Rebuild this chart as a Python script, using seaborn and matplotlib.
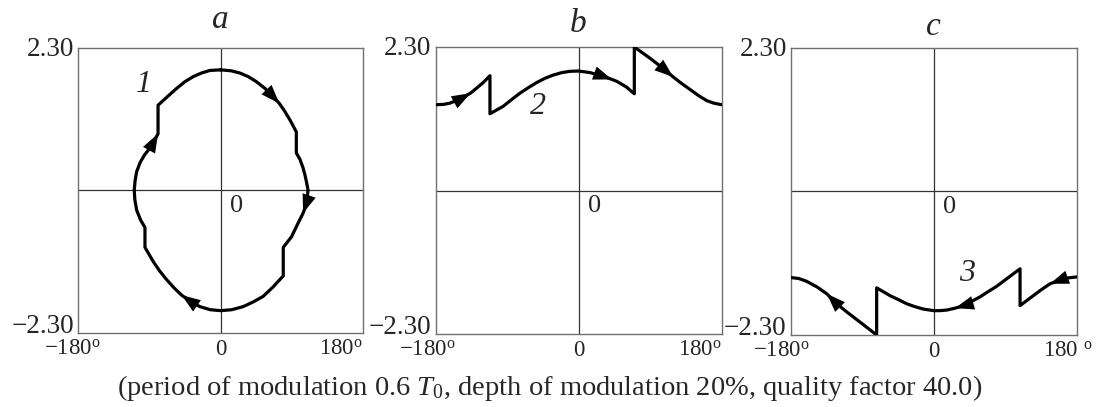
import matplotlib
matplotlib.use("Agg")
import matplotlib.pyplot as plt
import matplotlib.transforms as mtransforms
import pandas as pd
import seaborn as sns

# ---- trajectory 1: closed loop (phase in degrees, amplitude), clockwise ----
loop_phase = [0, 13, 24, 35, 45, 56, 66, 74, 81, 88, 95.5,
              95.5, 100, 104, 106.5, 108.5, 110.3, 108.3, 104, 97.7, 89.4, 79,
              79, 66, 53.6, 41, 28.4, 14, 0, -13, -26.2, -38, -49.3, -59, -68.2, -77, -85, -95.5,
              -95.5, -101, -106, -108.3, -109, -108, -106, -101.5, -96, -88, -79,
              -79, -67, -55.6, -45, -34.7, -24, -13.6, 0]
loop_amp = [1.94, 1.925, 1.89, 1.83, 1.75, 1.64, 1.51, 1.40, 1.27, 1.12, 0.94,
            0.60, 0.50, 0.36, 0.24, 0.12, 0.0, -0.21, -0.37, -0.53, -0.75, -0.92,
            -1.38, -1.56, -1.71, -1.80, -1.875, -1.925, -1.94, -1.925, -1.875, -1.79, -1.69, -1.57, -1.44, -1.30, -1.15, -0.92,
            -0.60, -0.48, -0.32, -0.15, 0.0, 0.15, 0.30, 0.45, 0.57, 0.70, 0.91,
            1.37, 1.51, 1.64, 1.75, 1.83, 1.89, 1.93, 1.94]
loop_arrow_tips = [7, 18, 32, 48]

# ---- trajectory 2: running upward branch ----
upper_phase = [-180, -170, -161.9, -152, -143, -136, -128.3, -120, -111.5,
               -111.5, -94.8, -84, -73.8, -63, -52.8, -42, -31.9, -21, -10.9, -0.4, 14.3, 31.1, 42, 48, 60, 70.1,
               70.1, 89.8, 102, 119, 128, 140.1, 151, 161.2, 170, 180]
upper_amp = [1.375, 1.38, 1.40, 1.45, 1.51, 1.56, 1.64, 1.73, 1.84,
             1.23, 1.35, 1.46, 1.56, 1.65, 1.73, 1.80, 1.85, 1.89, 1.91, 1.915, 1.89, 1.83, 1.78, 1.75, 1.66, 1.55,
             2.30, 2.12, 2.00, 1.82, 1.73, 1.62, 1.52, 1.44, 1.40, 1.375]
upper_arrow_tips = [5, 22, 29]

# ---- trajectory 3: running downward branch (travels right to left) ----
lower_phase = [180, 170, 163.2, 155, 146.5, 136, 125.4, 117, 108.7,
               108.7, 95, 79.3, 68, 58.3, 48, 37.7, 27, 16.8, 8, 0, -13, -24, -34, -45, -55, -63, -71.8,
               -71.8, -90, -109.5, -122, -134.6, -147, -160, -170, -180]
lower_amp = [-1.37, -1.385, -1.40, -1.44, -1.48, -1.57, -1.67, -1.75, -1.83,
             -1.24, -1.37, -1.52, -1.61, -1.69, -1.76, -1.83, -1.87, -1.90, -1.91, -1.91, -1.885, -1.845, -1.80, -1.73, -1.67, -1.61, -1.545,
             -2.30, -2.12, -1.93, -1.80, -1.64, -1.53, -1.44, -1.395, -1.38]
lower_arrow_tips = [4, 16, 31]

panel_titles = ["a", "b", "c"]
curve_numbers = ["1", "2", "3"]
curve_number_pos = [(-97, 1.71), (-51, 1.34), (42, -1.31)]
x_limits = (-180, 180)
y_limits = (-2.30, 2.30)
y_tick_text = ["2.30", "\u22122.30"]
caption = ("(period of modulation 0.6 $\\mathit{T}_{\\mathrm{0}}$, depth of modulation 20%, "
           "quality factor 40.0)")

sns.set_theme(style="white")
plt.rcParams["font.family"] = ["Liberation Serif", "DejaVu Serif"]
plt.rcParams["mathtext.fontset"] = "custom"
plt.rcParams["mathtext.rm"] = "Liberation Serif"
plt.rcParams["mathtext.it"] = "Liberation Serif:italic"

fig = plt.figure(figsize=(11.0, 4.07), dpi=100)
W, H = 1100.0, 407.0

# axes boxes in pixels: left, top, right, bottom
boxes = [(78, 47.5, 363.3, 333), (435.5, 47, 721.7, 334), (790.7, 47.7, 1076.7, 335)]
title_pad_px = [20, 15, 12.7]
# x tick label placement: (text, x value, pixel offset, ha)
xlab_specs = [
    [("\u2212180$^{\\mathrm{o}}$", -180, -6, "center"), ("0", 0, 0, "center"), ("180$^{\\mathrm{o}}$", 180, 0, "right")],
    [("\u2212180$^{\\mathrm{o}}$", -180, -8.5, "center"), ("0", 0, 0, "center"), ("180$^{\\mathrm{o}}$", 180, 0, "right")],
    [("\u2212180$^{\\mathrm{o}}$", -180, -9, "center"), ("0", 0, 0, "center"), ("180 $^{\\mathrm{o}}$", 180, -34, "left")],
]

curves = [
    (loop_phase, loop_amp, loop_arrow_tips),
    (upper_phase, upper_amp, upper_arrow_tips),
    (lower_phase, lower_amp, lower_arrow_tips),
]

px = 1.0 / fig.dpi  # one pixel in inches
xtick_fs = 16.5
ytick_fs = 19.5
for k, (l, t, r, b) in enumerate(boxes):
    ax = fig.add_axes([l / W, (H - b) / H, (r - l) / W, (b - t) / H])
    xs, ys, tips = curves[k]
    df = pd.DataFrame({"phase": xs, "amp": ys})

    ax.axhline(0, color="#333333", lw=0.9, zorder=1)
    ax.axvline(0, color="#333333", lw=0.9, zorder=1)
    sns.lineplot(data=df, x="phase", y="amp", sort=False, estimator=None,
                 color="black", lw=2.3, ax=ax, zorder=3)

    for i in tips:
        ax.annotate("", xy=(xs[i], ys[i]), xytext=(xs[i - 1], ys[i - 1]),
                    arrowprops=dict(arrowstyle="-|>,head_length=0.9,head_width=0.33",
                                    color="black", lw=0.0, shrinkA=0, shrinkB=0,
                                    mutation_scale=15), zorder=4)

    ax.set_xlim(*x_limits)
    ax.set_ylim(*y_limits)
    ax.set_xticks([])
    ax.set_yticks([])
    ax.set_xlabel("")
    ax.set_ylabel("")
    for sp in ax.spines.values():
        sp.set_color("#707070")
        sp.set_linewidth(1.0)
        sp.set_visible(True)

    ax.set_title(panel_titles[k], fontstyle="italic", fontsize=24,
                 pad=title_pad_px[k] * 72 / fig.dpi)

    # y labels at the frame corners
    ytr = mtransforms.blended_transform_factory(ax.transAxes, ax.transData)
    off = mtransforms.ScaledTranslation(-4 * px, 0, fig.dpi_scale_trans)
    ax.text(0, y_limits[1], y_tick_text[0],
            transform=ytr + off + mtransforms.ScaledTranslation(0, -8 * px, fig.dpi_scale_trans),
            ha="right", va="baseline", fontsize=ytick_fs)
    ax.text(0, y_limits[0], y_tick_text[1], transform=ytr + off,
            ha="right", va="baseline", fontsize=ytick_fs)

    # x labels under the frame
    xtr = mtransforms.blended_transform_factory(ax.transData, ax.transAxes)
    for txt, xv, dx, ha in xlab_specs[k]:
        ax.text(xv, 0, txt,
                transform=xtr + mtransforms.ScaledTranslation(dx * px, -22 * px, fig.dpi_scale_trans),
                ha=ha, va="baseline", fontsize=xtick_fs)

    # origin mark
    ax.text(0, 0, "0",
            transform=ax.transData + mtransforms.ScaledTranslation(16 * px, -16 * px, fig.dpi_scale_trans),
            ha="center", va="center", fontsize=19)

    # curve number
    cx, cy = curve_number_pos[k]
    ax.text(cx, cy, curve_numbers[k], fontstyle="italic", fontsize=23,
            ha="center", va="center")

fig.text(0.5, 12 / H, caption, ha="center", va="baseline", fontsize=20.5)

fig.savefig("out.png", dpi=100)
